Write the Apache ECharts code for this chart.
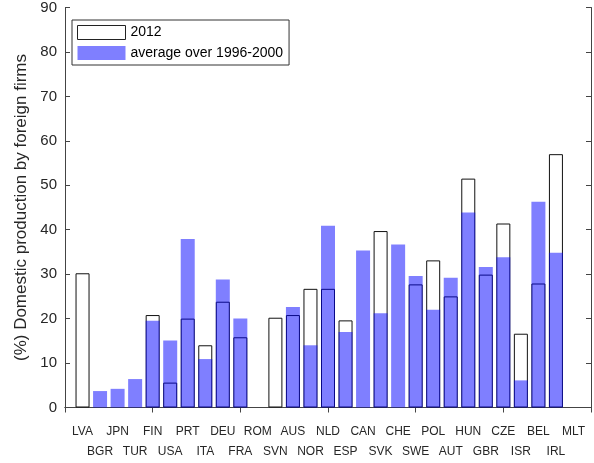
<!DOCTYPE html>
<html>
<head>
<meta charset="utf-8">
<script src="https://cdn.jsdelivr.net/npm/echarts@6/dist/echarts.min.js"></script>
<style>html,body{margin:0;padding:0;background:#fff;}#c{width:594px;height:463px;}</style>
</head>
<body>
<div id="c"></div>
<script>
const categories = ['LVA','BGR','JPN','TUR','FIN','USA','PRT','ITA','DEU','FRA','ROM','SVN','AUS','NOR','NLD','ESP','CAN','SVK','CHE','SWE','POL','AUT','HUN','GBR','CZE','ISR','BEL','IRL','MLT'];
const values2012 = [30.2,null,null,null,20.8,5.6,20.0,14.0,23.8,15.8,null,20.2,20.8,26.7,26.7,19.6,null,39.7,null,27.7,33.1,25.0,51.5,29.9,41.4,16.6,27.9,57.0,null];
const valuesAvg = [null,3.7,4.2,6.4,19.5,15.1,37.9,10.9,28.8,20.0,null,null,22.6,14.0,40.9,17.0,35.3,21.2,36.7,29.6,22.0,29.2,43.9,31.6,33.8,6.1,46.3,34.8,null];
const yTicks = [0,10,20,30,40,50,60,70,80,90];

const FONT = "'Liberation Sans', Arial, Helvetica, sans-serif";
const axisCats = [''].concat(categories, ['']);
const pad = arr => [null].concat(arr, [null]);
const tickFn = (i) => i % 5 === 0;

const chart = echarts.init(document.getElementById('c'), null, {renderer: 'canvas'});
chart.setOption({
  animation: false,
  backgroundColor: '#fff',
  grid: {left: 65, top: 7.5, width: 526, height: 400, containLabel: false},
  legend: {
    orient: 'vertical', left: 72, top: 20,
    itemWidth: 48, itemHeight: 14, itemGap: 6,
    padding: [5, 6, 5, 5],
    borderColor: '#333', borderWidth: 1, backgroundColor: '#fff',
    textStyle: {fontFamily: FONT, fontSize: 14, color: '#000'},
    data: [
      {name: '2012', icon: 'rect', itemStyle: {color: '#fff', borderColor: '#222', borderWidth: 1}},
      {name: 'average over 1996-2000', icon: 'rect', itemStyle: {color: 'rgba(0,0,255,0.5)', borderWidth: 0}}
    ]
  },
  xAxis: [{
    type: 'category', data: axisCats, boundaryGap: false, position: 'bottom',
    axisLine: {show: true, lineStyle: {color: '#444', width: 1}},
    axisTick: {show: true, inside: true, length: 5, interval: tickFn, lineStyle: {color: '#444'}},
    axisLabel: {
      show: true, interval: 0, margin: 14,
      fontFamily: FONT, fontSize: 12, color: '#262626', lineHeight: 20,
      formatter: (v, i) => (i % 2 === 0 ? '\n' + v : v)
    },
    splitLine: {show: false}
  }, {
    type: 'category', data: axisCats, boundaryGap: false, position: 'top',
    axisLine: {show: true, lineStyle: {color: '#444', width: 1}},
    axisTick: {show: true, inside: true, length: 5, interval: tickFn, lineStyle: {color: '#444'}},
    axisLabel: {show: false}, splitLine: {show: false}
  }],
  yAxis: [{
    type: 'value', min: 0, max: 90, interval: 10, position: 'left',
    name: '(%) Domestic production by foreign firms', nameLocation: 'middle', nameGap: 35,
    nameTextStyle: {fontFamily: FONT, fontSize: 17, color: '#262626'},
    axisLine: {show: true, lineStyle: {color: '#444', width: 1}},
    axisTick: {show: true, inside: true, length: 5, lineStyle: {color: '#444'}},
    axisLabel: {fontFamily: FONT, fontSize: 15, color: '#262626', margin: 8,
      formatter: v => (yTicks.indexOf(v) >= 0 ? String(v) : '')},
    splitLine: {show: false}
  }, {
    type: 'value', min: 0, max: 90, interval: 10, position: 'right',
    axisLine: {show: true, lineStyle: {color: '#444', width: 1}},
    axisTick: {show: true, inside: true, length: 5, lineStyle: {color: '#444'}},
    axisLabel: {show: false}, splitLine: {show: false}
  }],
  series: [{
    name: '2012', type: 'bar', xAxisIndex: 0, yAxisIndex: 0,
    data: pad(values2012), barWidth: 14, barGap: '-100%',
    itemStyle: {color: '#fff', borderColor: '#111', borderWidth: 1}
  }, {
    name: 'average over 1996-2000', type: 'bar', xAxisIndex: 0, yAxisIndex: 0,
    data: pad(valuesAvg), barWidth: 14, barGap: '-100%',
    itemStyle: {color: 'rgba(0,0,255,0.5)', borderWidth: 0}
  }]
});
</script>
</body>
</html>
